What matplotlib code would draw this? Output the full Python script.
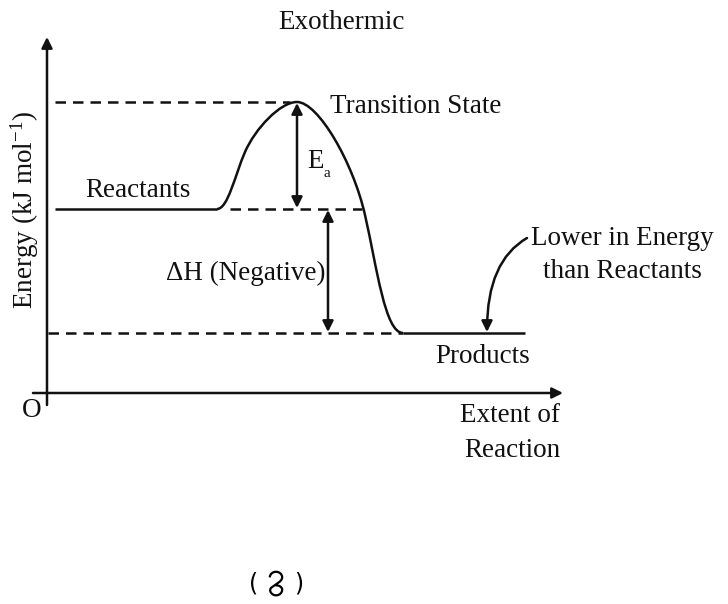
import matplotlib
matplotlib.use("Agg")
import matplotlib.pyplot as plt
from matplotlib.path import Path
from matplotlib.patches import PathPatch

# energy levels (diagram units, origin at the axes corner)
e_reactants = 184
e_ts = 291
e_products = 60

# extent of reaction positions
x_react = [8, 170]
x_peak = 250
x_prod = [356, 478]

# barrier profile (bezier vertices)
curve_x = [170, 181, 188, 198, 208, 233, 250, 271, 306, 318, 330, 338, 356]
curve_y = [184, 184, 218, 241, 264, 291, 291, 291, 231, 178, 125, 60, 60]

# dashed guide lines: (x start, x end, level)
guides = [(8, 243, e_ts), (183, 315, e_reactants), (1, 356, e_products)]

# arrow positions
x_ea = 250
x_dh = 281

plt.rcParams['mathtext.fontset'] = 'custom'
plt.rcParams['mathtext.rm'] = 'Liberation Serif'
plt.rcParams['mathtext.it'] = 'Liberation Serif:italic'
serif = 'Liberation Serif'
fs = 19.5
lw = 1.8
ink = '#111111'

fig = plt.figure(figsize=(7.28, 6.04), dpi=100)
ax = fig.add_axes([0, 0, 1, 1])
ax.set_xlim(-47, 681)
ax.set_ylim(-211, 393)
ax.axis('off')

# axes with arrow heads
ax.annotate('', xy=(0, 356), xytext=(0, -12),
            arrowprops=dict(arrowstyle='-|>', color=ink, lw=lw, mutation_scale=16,
                            shrinkA=0, shrinkB=0))
ax.annotate('', xy=(516, 0), xytext=(-14, 0),
            arrowprops=dict(arrowstyle='-|>', color=ink, lw=lw, mutation_scale=16,
                            shrinkA=0, shrinkB=0))

# plateaus
ax.plot(x_react, [e_reactants, e_reactants], color=ink, lw=lw, solid_capstyle='butt')
ax.plot(x_prod, [e_products, e_products], color=ink, lw=lw, solid_capstyle='butt')

# barrier
codes = [Path.MOVETO] + [Path.CURVE4] * (len(curve_x) - 1)
path = Path(list(zip(curve_x, curve_y)), codes)
ax.add_patch(PathPatch(path, fill=False, edgecolor=ink, lw=lw))

# dashed guides
for x0, x1, lev in guides:
    ax.plot([x0, x1], [lev, lev], color=ink, lw=lw, linestyle=(0, (4.2, 2.8)))

# Ea and dH double arrows
ax.annotate('', xy=(x_ea, e_reactants + 1), xytext=(x_ea, e_ts - 1),
            arrowprops=dict(arrowstyle='<|-|>', color=ink, lw=lw, mutation_scale=16,
                            shrinkA=0, shrinkB=0))
ax.annotate('', xy=(x_dh, e_products + 1), xytext=(x_dh, e_reactants - 1),
            arrowprops=dict(arrowstyle='<|-|>', color=ink, lw=lw, mutation_scale=16,
                            shrinkA=0, shrinkB=0))

# curved pointer to products
ax.annotate('', xy=(440, e_products + 1), xytext=(480, 155),
            arrowprops=dict(arrowstyle='-|>', color=ink, lw=lw, mutation_scale=16,
                            shrinkA=0, shrinkB=0,
                            connectionstyle='angle3,angleA=30,angleB=90'))

# labels
ax.text(294, 364, 'Exothermic', family=serif, fontsize=fs, ha='center', va='baseline', color=ink)
ax.text(283, 280, 'Transition State', family=serif, fontsize=fs, ha='left', va='baseline', color=ink)
ax.text(38, 196, 'Reactants', family=serif, fontsize=fs, ha='left', va='baseline', color=ink)
ax.text(260, 225, 'E', family=serif, fontsize=fs, ha='left', va='baseline', color=ink)
ax.text(276, 216, 'a', family=serif, fontsize=11, ha='left', va='baseline', color=ink)
ax.text(278, 113, '\u0394H (Negative)', family=serif, fontsize=fs, ha='right', va='baseline', color=ink)
ax.text(575, 148, 'Lower in Energy', family=serif, fontsize=fs, ha='center', va='baseline', color=ink)
ax.text(575, 115, 'than Reactants', family=serif, fontsize=fs, ha='center', va='baseline', color=ink)
ax.text(436, 30, 'Products', family=serif, fontsize=fs, ha='center', va='baseline', color=ink)
ax.text(513, -29, 'Extent of', family=serif, fontsize=fs, ha='right', va='baseline', color=ink)
ax.text(513, -64, 'Reaction', family=serif, fontsize=fs, ha='right', va='baseline', color=ink)
ax.text(-15, -24, 'O', family=serif, fontsize=fs, ha='center', va='baseline', color=ink)
ax.text(-22, 183, 'Energy (kJ mol$^{\\mathrm{-1}}$)', family=serif, fontsize=fs,
        rotation=90, ha='center', va='center', color=ink)

# figure number "( ૨ )" - no installed font has the Gujarati digit, so draw its shape
ax.text(207, -190, '(', family='DejaVu Sans', fontsize=17, ha='center', va='center', color='black')
ax.text(252, -190, ')', family='DejaVu Sans', fontsize=17, ha='center', va='center', color='black')
gx, gy, gs = 229, -190, 1.12
glyph = [(-5.5, 5), (-5.5, 8), (-3, 10), (0, 10),
         (3, 10), (5.5, 8), (5.5, 5),
         (5.5, 1.5), (0, -1), (-4, -4),
         (-7, -6.5), (-4, -11), (0, -11),
         (3.5, -11), (5.5, -8.5), (5.5, -6),
         (5.5, -3), (2, -2), (-0.5, -2)]
gcodes = [Path.MOVETO] + [Path.CURVE4] * (len(glyph) - 1)
gpath = Path([(gx + gs * u, gy + gs * v) for u, v in glyph], gcodes)
ax.add_patch(PathPatch(gpath, fill=False, edgecolor='black', lw=1.6))

fig.savefig('out.png', dpi=100)
